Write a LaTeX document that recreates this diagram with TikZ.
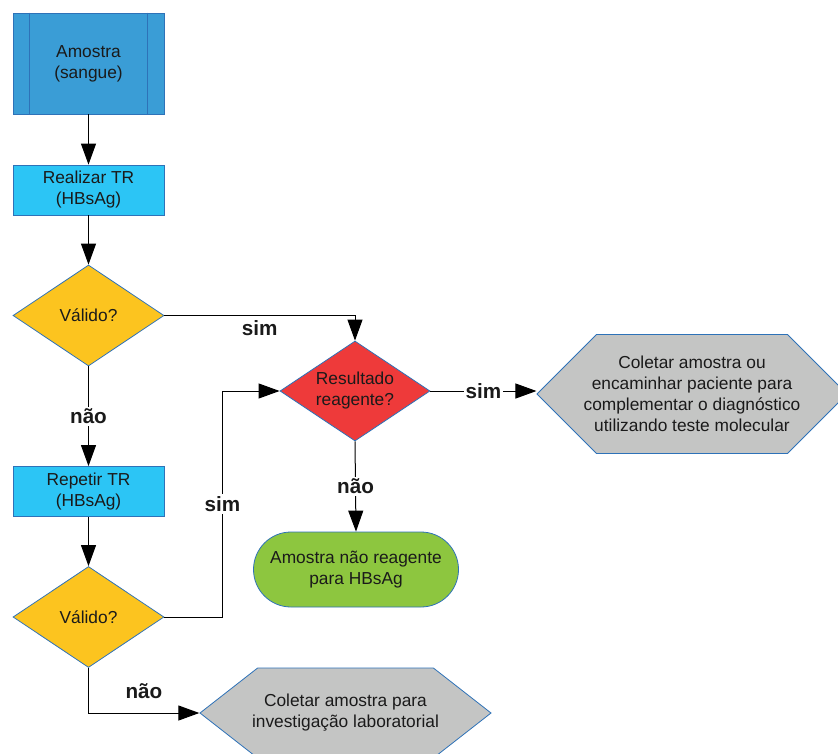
\documentclass[tikz,border=0pt]{standalone}
\usepackage{fontspec}
\setmainfont{Liberation Sans}
\usetikzlibrary{arrows.meta,shapes.geometric,shapes.misc,shapes.symbols}

\definecolor{azulproc}{HTML}{3A9DD6}
\definecolor{azulcaixa}{HTML}{2CC5F5}
\definecolor{borda}{HTML}{2E72B8}
\definecolor{amarelo}{HTML}{FCC41F}
\definecolor{vermelho}{HTML}{EE3A3A}
\definecolor{verde}{HTML}{8DC63F}
\definecolor{cinza}{HTML}{C4C5C4}
\definecolor{texto}{HTML}{1A1A1A}

\tikzset{
	base/.style={draw=borda, line width=0.6pt, align=center, text=texto, inner sep=0pt,
		font=\fontsize{13}{15.75}\selectfont},
	caixa/.style={base, rectangle, fill=azulcaixa, minimum width=113.25pt, minimum height=37.5pt},
	processo/.style={base, rectangle, fill=azulproc, minimum width=113.25pt, minimum height=75.75pt},
	decisao/.style={base, diamond, aspect=1.5, fill=amarelo, minimum width=113.25pt, minimum height=75.75pt},
	terminal/.style={base, rounded rectangle, fill=verde, minimum width=153.75pt, minimum height=56.25pt},
	hexa/.style={base, signal, signal to=west and east, fill=cinza},
	seta/.style={line width=0.75pt, -{Triangle[length=15.75pt,width=11.25pt]}},
	rotulo/.style={font=\fontsize{15.5}{18}\bfseries\selectfont, text=texto, inner sep=1.5pt}
}

\begin{document}
\begin{tikzpicture}[x=0.75pt, y=-0.75pt]
	%%%%% START %%%%%
	\useasboundingbox (0,0) rectangle (838,753);
	
	\node[processo] (amostra) at (88.5,63.5) {Amostra\\(sangue)};
	\draw[borda, line width=0.6pt] ([xshift=12.75pt]amostra.north west) -- ([xshift=12.75pt]amostra.south west);
	\draw[borda, line width=0.6pt] ([xshift=-12.75pt]amostra.north east) -- ([xshift=-12.75pt]amostra.south east);
	
	\node[caixa] (realizar) at (88.5,190) {Realizar TR\\(HBsAg)};
	\node[decisao] (valido1) at (88.5,315.5) {Válido?};
	\node[caixa] (repetir) at (88.5,491.5) {Repetir TR\\(HBsAg)};
	\node[decisao] (valido2) at (88.5,617) {Válido?};
	
	\node[decisao, fill=vermelho, minimum width=112.5pt, minimum height=75pt] (resultado) at (355,391) {Resultado\\reagente?};
	\node[hexa, signal pointer angle=90, minimum width=232.5pt, minimum height=89.25pt, inner xsep=-12pt] (coletar1) at (692,394)
		{Coletar amostra ou\\encaminhar paciente para\\complementar o diagnóstico\\utilizando teste molecular};
	\node[terminal] (naoreag) at (356,569.5) {Amostra não reagente\\para HBsAg};
	\node[hexa, signal pointer angle=76, minimum width=218.25pt, minimum height=67.5pt, inner xsep=-5pt] (coletar2) at (345.5,713)
		{Coletar amostra para\\investigação laboratorial};
	
	\draw[seta] (amostra) -- (realizar);
	\draw[seta] (realizar) -- (valido1);
	\draw[seta] (valido1) -- node[rotulo, fill=white] {não} (repetir);
	\draw[seta] (repetir) -- (valido2);
	\draw[seta] (valido1.east) -| node[rotulo, pos=0.25, below, yshift=-2pt] {sim} (resultado.north);
	\draw[seta] (resultado.east) -- node[rotulo, fill=white] {sim} (resultado.east -| coletar1.west);
	\draw[seta] (resultado.south) -- node[rotulo, fill=white] {não} (naoreag.north);
	\draw[seta] (valido2.east) -- ++(58,0) |- node[rotulo, pos=0.25, fill=white] {sim} (resultado.west);
	\draw[seta] (valido2.south) |- node[rotulo, pos=0.75, above, yshift=9pt] {não} (coletar2.west);
	
	%%%%% END %%%%%
\end{tikzpicture}
\end{document}
